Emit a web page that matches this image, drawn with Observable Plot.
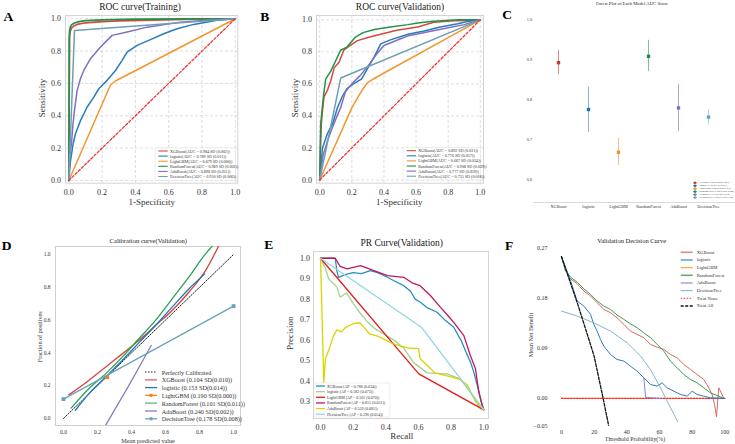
<!DOCTYPE html>
<html><head><meta charset="utf-8">
<script src="https://cdn.jsdelivr.net/npm/d3@7"></script>
<script src="https://cdn.jsdelivr.net/npm/@observablehq/plot@0.6"></script>
<style>
html,body{margin:0;padding:0;background:#fff;}
#root{position:relative;width:735px;height:444px;overflow:hidden;background:#fff;}
#root svg{position:absolute;}
</style></head><body><div id="root"></div>
<script>
// ================= DATA =================
const models = ["XGBoost","logistic","LightGBM","RandomForest","AdaBoost","DecisionTree"];
const ticks01 = [0,0.2,0.4,0.6,0.8,1.0];

// --- A: ROC training (fpr, tpr)
const rocTrainXGBoost = [[0,0],[0.004,0.88],[0.008,0.92],[0.015,0.94],[0.03,0.955],[0.05,0.965],[0.1,0.975],[0.2,0.982],[0.3,0.987],[0.5,0.992],[0.7,0.996],[1,1]];
const rocTrainLogistic = [[0,0],[0.01,0.12],[0.026,0.227],[0.04,0.289],[0.07,0.37],[0.11,0.454],[0.15,0.515],[0.18,0.567],[0.23,0.619],[0.28,0.68],[0.32,0.742],[0.35,0.794],[0.41,0.835],[0.48,0.866],[0.57,0.907],[0.65,0.938],[0.75,0.965],[0.89,0.99],[1,1]];
const rocTrainLightGBM = [[0,0],[0.25,0.59],[0.28,0.615],[1,1]];
const rocTrainRandomForest = [[0,0],[0.003,0.9],[0.007,0.94],[0.015,0.96],[0.03,0.972],[0.06,0.982],[0.1,0.988],[0.2,0.993],[0.4,0.997],[0.7,0.999],[1,1]];
const rocTrainAdaBoost = [[0,0],[0.005,0.15],[0.016,0.227],[0.025,0.35],[0.034,0.433],[0.05,0.557],[0.07,0.63],[0.09,0.68],[0.13,0.753],[0.19,0.825],[0.23,0.866],[0.26,0.897],[0.35,0.918],[0.47,0.948],[0.67,0.979],[0.85,0.992],[1,1]];
const rocTrainDecisionTree = [[0,0],[0.034,0.928],[1,1]];
const rocTrainLegend = ["XGBoost(AUC = 0.984 SD (0.002))","logistic(AUC = 0.789 SD (0.011))","LightGBM(AUC = 0.679 SD (0.000))","RandomForest(AUC = 0.989 SD (0.002))","AdaBoost(AUC = 0.898 SD (0.011))","DecisionTree(AUC = 0.950 SD (0.006))"];

// --- B: ROC validation
const rocValXGBoost = [[0,0],[0.005,0.2],[0.01,0.35],[0.017,0.43],[0.027,0.52],[0.048,0.56],[0.069,0.62],[0.09,0.7],[0.12,0.735],[0.15,0.81],[0.19,0.84],[0.235,0.87],[0.3,0.89],[0.38,0.91],[0.48,0.935],[0.61,0.955],[0.71,0.985],[0.86,0.995],[1,1]];
const rocValLogistic = [[0,0],[0.017,0.2],[0.048,0.29],[0.08,0.35],[0.11,0.45],[0.14,0.52],[0.17,0.57],[0.21,0.6],[0.26,0.63],[0.3,0.7],[0.34,0.77],[0.38,0.85],[0.44,0.875],[0.55,0.91],[0.65,0.93],[0.75,0.955],[0.86,0.975],[0.92,0.99],[1,1]];
const rocValLightGBM = [[0,0],[0.2,0.45],[0.24,0.52],[0.27,0.57],[0.3,0.61],[0.35,0.64],[1,1]];
const rocValRandomForest = [[0,0],[0.003,0.2],[0.006,0.35],[0.023,0.52],[0.037,0.63],[0.069,0.68],[0.1,0.745],[0.13,0.81],[0.17,0.83],[0.22,0.89],[0.27,0.92],[0.34,0.94],[0.44,0.955],[0.55,0.97],[0.61,0.98],[0.69,0.99],[0.86,1.0],[1,1]];
const rocValAdaBoost = [[0,0],[0.02,0.15],[0.05,0.25],[0.08,0.33],[0.1,0.38],[0.13,0.45],[0.16,0.55],[0.2,0.6],[0.25,0.65],[0.3,0.71],[0.35,0.78],[0.4,0.84],[0.45,0.86],[0.5,0.88],[0.55,0.9],[0.6,0.91],[0.7,0.93],[0.8,0.95],[0.9,0.97],[1,1]];
const rocValDecisionTree = [[0,0],[0.131,0.637],[1,1]];
const rocValLegend = ["XGBoost(AUC = 0.892 SD (0.031))","logistic(AUC = 0.776 SD (0.057))","LightGBM(AUC = 0.667 SD (0.034))","RandomForest(AUC = 0.908 SD (0.039))","AdaBoost(AUC = 0.777 SD (0.059))","DecisionTree(AUC = 0.755 SD (0.018))"];
const diagonal = [[0,0],[1,1]];

// --- C: forest plot of AUC
const aucMean = [0.892,0.775,0.668,0.908,0.779,0.756];
const aucLow  = [0.862,0.718,0.635,0.870,0.720,0.738];
const aucHigh = [0.923,0.831,0.703,0.948,0.838,0.774];
const aucTicks = [0.6,0.7,0.8,0.9,1.0];
const forestLegend = ["XGBoost: 0.892 (0.862-0.923)","logistic: 0.775 (0.718-0.831)","LightGBM: 0.668 (0.635-0.703)","RandomForest: 0.908 (0.870-0.948)","AdaBoost: 0.779 (0.720-0.838)","DecisionTree: 0.756 (0.738-0.774)"];

// --- D: calibration (mean predicted, fraction positives)
const calPerfect = [[0,0],[1,1]];
const calXGBoost = [[0.031,0.144],[0.149,0.232],[0.247,0.313],[0.345,0.394],[0.443,0.476],[0.541,0.567],[0.639,0.659],[0.737,0.77],[0.835,0.902],[0.914,1.055]];
const calLogistic = [[0.07,0.05],[0.149,0.15],[0.247,0.252],[0.345,0.354],[0.443,0.461],[0.541,0.567],[0.639,0.679],[0.737,0.79],[0.831,0.882]];
const calLightGBM = [[0.257,0.252]];
const calRandomForest = [[0.045,0.063],[0.149,0.181],[0.247,0.272],[0.345,0.374],[0.443,0.486],[0.541,0.598],[0.639,0.73],[0.737,0.862],[0.835,1.004],[0.878,1.055]];
const calAdaBoost = [[0.247,-0.043],[0.384,0.2],[0.516,0.445]];
const calDecisionTree = [[0,0.118],[1,0.685]];
const calLegend = ["Perfectly Calibrated","XGBoost (0.104 SD(0.010))","logistic (0.153 SD(0.014))","LightGBM (0.190 SD(0.000))","RandomForest (0.101 SD(0.011))","AdaBoost (0.240 SD(0.002))","DecisionTree (0.178 SD(0.008))"];

// --- E: PR curves (recall, precision)
const prXGBoost = [[0,1],[0.09,1],[0.1,0.94],[0.11,0.907],[0.15,0.92],[0.2,0.93],[0.25,0.925],[0.306,0.94],[0.35,0.93],[0.41,0.907],[0.45,0.89],[0.51,0.866],[0.55,0.84],[0.58,0.8],[0.612,0.785],[0.65,0.76],[0.714,0.736],[0.76,0.7],[0.816,0.663],[0.86,0.6],[0.898,0.53],[0.92,0.49],[0.94,0.44],[0.97,0.35],[0.985,0.3],[1,0.26]];
const prLogistic = [[0,1],[0.03,0.95],[0.05,0.9],[0.1,0.86],[0.12,0.81],[0.16,0.83],[0.2,0.78],[0.245,0.73],[0.286,0.69],[0.327,0.66],[0.367,0.64],[0.45,0.6],[0.51,0.56],[0.57,0.49],[0.653,0.44],[0.776,0.435],[0.857,0.41],[0.918,0.345],[0.98,0.265]];
const prLightGBM = [[0,1],[0.602,0.435],[1,0.259]];
const prRandomForest = [[0,1],[0.09,1],[0.12,0.96],[0.163,0.948],[0.245,0.964],[0.327,0.94],[0.41,0.915],[0.51,0.907],[0.56,0.88],[0.61,0.866],[0.673,0.818],[0.735,0.76],[0.78,0.72],[0.816,0.687],[0.878,0.622],[0.918,0.525],[0.949,0.46],[0.97,0.345],[0.99,0.28],[1,0.26]];
const prAdaBoost = [[0,1],[0.02,0.394],[0.03,0.508],[0.05,0.55],[0.08,0.622],[0.1,0.65],[0.13,0.64],[0.15,0.66],[0.2,0.68],[0.24,0.685],[0.27,0.66],[0.3,0.63],[0.35,0.62],[0.4,0.6],[0.45,0.58],[0.5,0.57],[0.55,0.56],[0.6,0.56],[0.61,0.51],[0.65,0.48],[0.7,0.44],[0.8,0.42],[0.85,0.41],[0.9,0.38],[0.95,0.3],[1,0.26]];
const prDecisionTree = [[0,1],[0.618,0.663],[1,0.26]];
const prLegend = ["XGBoost (AP = 0.788 (0.034))","logistic (AP = 0.582 (0.073))","LightGBM (AP = 0.565 (0.070))","RandomForest (AP = 0.815 (0.051))","AdaBoost (AP = 0.559 (0.081))","DecisionTree (AP = 0.596 (0.054))"];
const prTicksY = [0.3,0.4,0.5,0.6,0.7,0.8,0.9,1.0];

// --- F: decision curve (threshold %, net benefit)
const dcaXGBoost = [[0,0.255],[2.4,0.23],[5.5,0.215],[9.6,0.206],[13.7,0.193],[17.8,0.184],[21.8,0.172],[25.9,0.16],[30,0.154],[34,0.145],[38.2,0.133],[42.2,0.121],[46.3,0.115],[50.4,0.109],[54.5,0.097],[58.6,0.092],[62.7,0.088],[66.7,0.079],[70.8,0.073],[74.9,0.061],[79,0.052],[83,0.043],[87.1,0.034],[90.2,0.019],[92.2,0.007],[93.7,-0.011],[94.9,-0.033],[96.3,0.019],[97.8,0.01],[99.4,0]];
const dcaLogistic = [[0,0.255],[5.5,0.212],[9.6,0.175],[13.7,0.166],[17.8,0.151],[19.8,0.133],[21.8,0.121],[23.9,0.106],[25.9,0.094],[30,0.079],[34,0.07],[38.2,0.067],[42.2,0.058],[46.3,0.049],[50.4,0.037],[54.5,0.025],[58.6,0.022],[61.6,0.028],[64.7,0.019],[68.8,0.013],[72.9,0.007],[77,0.004],[80,0.013],[83,0.007],[87.1,0.004],[91.2,0.001],[99.4,0]];
const dcaLightGBM = [[0,0],[100,0]];
const dcaRandomForest = [[0,0.255],[2.4,0.231],[5.5,0.218],[9.6,0.209],[13.7,0.197],[17.8,0.187],[21.8,0.175],[25.9,0.166],[30,0.16],[34,0.15],[38.2,0.142],[42.2,0.134],[46.3,0.127],[50.4,0.118],[54.5,0.109],[58.6,0.097],[62.7,0.085],[66.7,0.067],[70.8,0.055],[74.9,0.043],[79,0.034],[83,0.028],[87.1,0.019],[91.2,0.01],[95.3,0.005],[99.4,0]];
const dcaAdaBoost = [[50.4,0.037],[51.5,0.002],[55,0.001],[60.6,0]];
const dcaDecisionTree = [[0,0.157],[9.6,0.148],[19.8,0.136],[30,0.121],[40.2,0.1],[48.4,0.076],[54.5,0.052],[60.6,0.019],[64.7,-0.005],[71.2,-0.042]];
const dcaTreatNone = [[0,0],[100,0]];
const dcaTreatAll = [[0,0.255],[10,0.169],[20,0.076],[25.5,0],[29,-0.0506]];
const dcaLegend = ["XGBoost","logistic","LightGBM","RandomForest","AdaBoost","DecisionTree","Treat None","Treat All"];
const dcaTicksX = [0,20,40,60,80,100];
const dcaTicksY = [-0.05,0,0.09,0.18,0.27];

// ================= STYLE =================
const FONT = '"Liberation Serif","Times New Roman",serif';
const rocColors = ["#d6483c","#2a7bbd","#f2962f","#23924a","#8170bf","#6e9fb5"];
const diagColor = "#f03030";
const forestColors = ["#c43b33","#1f6fb5","#eb8f1e","#1b8a4a","#8070b8","#5aa5c2"];
const forestBarColors = ["#d98a85","#8fb5d8","#f3c27f","#7fbf93","#b0a6d6","#a6cfe0"];
const calColors = ["#d5453f","#1f77b4","#ff7f0e","#2ca05a","#8a7cc5","#6aa3b8"];
const calLegendColors = ["#e08b87","#1f77b4","#ff7f0e","#82c99a","#8a7cc5","#6aa3b8"];
const prColors = ["#2b8cbe","#a8d08d","#e31a1c","#c2185b","#d8d400","#92d5e6"];
const dcaColors = ["#d46a62","#2b7bc0","#ff9e2c","#3d9a5a","#8f80c9","#86b3cc","#ff2a2a","#111111"];
const dcaLegendColors = ["#dd8a84","#2b7bc0","#ff9e2c","#5cae74","#8f80c9","#86b3cc","#ff2a2a","#111111"];

// ================= HELPERS =================
const root = document.getElementById("root");
const P = arr => arr.map(([x, y]) => ({x, y}));
const line = (arr, stroke, o = {}) => Plot.line(P(arr), {x: "x", y: "y", stroke, strokeWidth: 1.3, clip: true, ...o});
function add(svg, left, top) { svg.style.left = left + "px"; svg.style.top = top + "px"; root.appendChild(svg); }
const baseStyle = (fs) => ({fontFamily: FONT, fontSize: fs, color: "#333", background: "transparent", overflow: "visible"});
const grid = (G, ticks) => G({ticks, stroke: "#c8c8c8", strokeOpacity: 1, strokeDasharray: "3,2", strokeWidth: 0.6});
const diagMark = () => Plot.line(P(diagonal), {x: "x", y: "y", stroke: diagColor, strokeWidth: 1.25, strokeDasharray: "2.6,1.8"});

// ================= A =================
add(Plot.plot({
  width: 245, height: 215, marginLeft: 65, marginRight: 7.7, marginTop: 15, marginBottom: 32.3,
  style: baseStyle("8px"),
  x: {domain: [-0.02, 1.015]}, y: {domain: [-0.017, 1.02]},
  marks: [
    grid(Plot.gridX, ticks01), grid(Plot.gridY, ticks01),
    Plot.frame({stroke: "#d4d4d4"}),
    Plot.axisX({ticks: ticks01, tickSize: 0, tickPadding: 6.5, tickFormat: ".1f", label: null}),
    Plot.axisY({ticks: ticks01, tickSize: 0, tickPadding: 4.5, tickFormat: ".1f", label: null}),
    line(rocTrainXGBoost, rocColors[0], {strokeWidth: 1.7}),
    line(rocTrainLogistic, rocColors[1], {strokeWidth: 1.5}),
    line(rocTrainLightGBM, rocColors[2], {strokeWidth: 1.5}),
    line(rocTrainRandomForest, rocColors[3], {strokeWidth: 1.7}),
    line(rocTrainAdaBoost, rocColors[4], {strokeWidth: 1.5}),
    line(rocTrainDecisionTree, rocColors[5], {strokeWidth: 1.5}),
    diagMark()
  ]
}), 0, 0);

// ================= B =================
add(Plot.plot({
  width: 245, height: 215, marginLeft: 76, marginRight: 2, marginTop: 15, marginBottom: 32.3,
  style: baseStyle("8px"),
  x: {domain: [-0.02, 1.02]}, y: {domain: [-0.02, 1.027]},
  marks: [
    grid(Plot.gridX, ticks01), grid(Plot.gridY, ticks01),
    Plot.frame({stroke: "#d4d4d4"}),
    Plot.axisX({ticks: ticks01, tickSize: 0, tickPadding: 6.5, tickFormat: ".1f", label: null}),
    Plot.axisY({ticks: ticks01, tickSize: 0, tickPadding: 4.5, tickFormat: ".1f", label: null}),
    line(rocValXGBoost, rocColors[0], {strokeWidth: 1.5}),
    line(rocValLogistic, rocColors[1], {strokeWidth: 1.5}),
    line(rocValLightGBM, rocColors[2], {strokeWidth: 1.5}),
    line(rocValRandomForest, rocColors[3], {strokeWidth: 1.5}),
    line(rocValAdaBoost, rocColors[4], {strokeWidth: 1.5}),
    line(rocValDecisionTree, rocColors[5], {strokeWidth: 1.5}),
    diagMark()
  ]
}), 240, 0);

// ================= C =================
const forest = models.map((m, i) => ({model: m, auc: aucMean[i], low: aucLow[i], high: aucHigh[i], c: forestColors[i], cb: forestBarColors[i]}));
const cYDomain = [0.5425, 1.01];
add(Plot.plot({
  width: 255, height: 215, marginLeft: 53, marginRight: 0, marginTop: 15, marginBottom: 13,
  style: baseStyle("4.2px"),
  x: {type: "point", domain: models, range: [63, 243]},
  y: {domain: cYDomain},
  color: {type: "identity"},
  marks: [
    Plot.ruleY([cYDomain[0]], {stroke: "#d0d0d0", strokeWidth: 0.8}),
    Plot.axisX({tickSize: 0, tickPadding: 3, label: null}),
    Plot.axisY({ticks: aucTicks, tickSize: 0, tickPadding: 1.5, tickFormat: ".1f", label: null}),
    Plot.ruleX(forest, {x: "model", y1: "low", y2: "high", stroke: "cb", strokeWidth: 1}),
    Plot.dot(forest, {x: "model", y: "auc", fill: "c", symbol: "square", r: 1.9})
  ]
}), 480, 0);

// ================= D =================
add(Plot.plot({
  width: 245, height: 219, marginLeft: 55, marginRight: 5, marginTop: 21, marginBottom: 19,
  style: baseStyle("5.5px"),
  x: {domain: [-0.047, 1.041]}, y: {domain: [-0.043, 1.049]},
  marks: [
    Plot.frame({stroke: "#cfcfcf"}),
    Plot.axisX({ticks: ticks01, tickSize: 0, tickPadding: 5, tickFormat: ".1f", label: null}),
    Plot.axisY({ticks: ticks01, tickSize: 0, tickPadding: 5, tickFormat: ".1f", label: null}),
    Plot.line(P(calPerfect), {x: "x", y: "y", stroke: "#222", strokeDasharray: "1.5,1.5", strokeWidth: 1}),
    line(calXGBoost, calColors[0], {curve: "monotone-x"}),
    line(calLogistic, calColors[1], {curve: "monotone-x"}),
    Plot.dot(P(calLightGBM), {x: "x", y: "y", fill: calColors[2], symbol: "square", r: 2.2}),
    line(calRandomForest, calColors[3], {curve: "monotone-x"}),
    line(calAdaBoost, calColors[4]),
    line(calDecisionTree, calColors[5]),
    Plot.dot(P(calDecisionTree), {x: "x", y: "y", fill: calColors[5], symbol: "square", r: 2.2})
  ]
}), 0, 225);

// ================= E =================
add(Plot.plot({
  width: 250, height: 219, marginLeft: 73, marginRight: 2, marginTop: 26, marginBottom: 26,
  style: baseStyle("8px"),
  x: {domain: [-0.043, 1.029]}, y: {domain: [0.217, 1.033]},
  marks: [
    Plot.frame({stroke: "#d4d4d4"}),
    Plot.axisX({ticks: ticks01, tickSize: 0, tickPadding: 6, tickFormat: ".1f", label: null}),
    Plot.axisY({ticks: prTicksY, tickSize: 0, tickPadding: 3.5, tickFormat: ".1f", label: null}),
    line(prXGBoost, prColors[0]),
    line(prLogistic, prColors[1]),
    line(prLightGBM, prColors[2]),
    line(prRandomForest, prColors[3]),
    line(prAdaBoost, prColors[4]),
    line(prDecisionTree, prColors[5])
  ]
}), 240, 225);

// ================= F =================
add(Plot.plot({
  width: 255, height: 219, marginLeft: 72.8, marginRight: 2.5, marginTop: 22.7, marginBottom: 18.3,
  style: baseStyle("6px"),
  x: {domain: [-5, 105]}, y: {domain: [-0.05, 0.27]},
  marks: [
    Plot.axisX({ticks: dcaTicksX, tickSize: 0, tickPadding: 4, tickFormat: "d", label: null}),
    Plot.axisY({ticks: dcaTicksY, tickSize: 0, tickPadding: 5.8, tickFormat: ".2f", label: null}),
    line(dcaLightGBM, dcaColors[2], {strokeWidth: 1}),
    line(dcaTreatNone, dcaColors[6], {strokeDasharray: "1.5,1.5", strokeWidth: 1.2}),
    line(dcaXGBoost, dcaColors[0], {strokeWidth: 1}),
    line(dcaRandomForest, dcaColors[3], {strokeWidth: 1}),
    line(dcaAdaBoost, dcaColors[4], {strokeWidth: 1}),
    line(dcaLogistic, dcaColors[1], {strokeWidth: 1}),
    line(dcaDecisionTree, dcaColors[5], {strokeWidth: 1}),
    line(dcaTreatAll, dcaColors[7], {strokeDasharray: "3,1.5", strokeWidth: 1.3})
  ]
}), 480, 225);

// ================= OVERLAY TEXT & LEGENDS =================
const ov = d3.create("svg").attr("width", 735).attr("height", 444)
  .style("left", "0px").style("top", "0px").style("pointer-events", "none");
function T(x, y, s, size, o = {}) {
  const t = ov.append("text").attr("x", x).attr("y", y)
    .attr("font-family", FONT).attr("font-size", size)
    .attr("fill", o.fill || "#222").attr("text-anchor", o.anchor || "middle")
    .attr("dominant-baseline", "central").text(s);
  if (o.bold) t.attr("font-weight", "bold");
  if (o.rotate) t.attr("transform", `rotate(-90,${x},${y})`);
  return t;
}
function legend(labels, colors, cfg) {
  if (cfg.box) ov.append("rect").attr("x", cfg.box[0]).attr("y", cfg.box[1]).attr("width", cfg.box[2]).attr("height", cfg.box[3])
    .attr("fill", "white").attr("fill-opacity", 0.85).attr("stroke", "#dedede").attr("stroke-width", 0.5).attr("rx", 1);
  labels.forEach((lab, i) => {
    const y = cfg.y0 + i * cfg.dy;
    const st = (cfg.styles && cfg.styles[i]) || {};
    ov.append("line").attr("x1", cfg.x1).attr("x2", cfg.x2).attr("y1", y).attr("y2", y)
      .attr("stroke", colors[i]).attr("stroke-width", st.w || cfg.w || 1.2)
      .attr("stroke-dasharray", st.dash || null);
    if (st.marker) ov.append("rect").attr("x", (cfg.x1 + cfg.x2) / 2 - st.marker / 2).attr("y", y - st.marker / 2)
      .attr("width", st.marker).attr("height", st.marker).attr("fill", colors[i]);
    T(cfg.tx, y, lab, cfg.size, {anchor: "start", fill: "#333"});
  });
}

// panel letters
T(8.3, 16.5, "A", "13.5px", {bold: true, fill: "#000"});
T(264.7, 16.5, "B", "13.5px", {bold: true, fill: "#000"});
T(507.2, 14.5, "C", "13.5px", {bold: true, fill: "#000"});
T(6.7, 245.8, "D", "13.5px", {bold: true, fill: "#000"});
T(268.7, 244.8, "E", "13.5px", {bold: true, fill: "#000"});
T(509, 245.8, "F", "13.5px", {bold: true, fill: "#000"});

// A
T(140, 6.7, "ROC curve(Training)", "9.5px");
T(151.7, 202, "1-Specificity", "9px", {fill: "#333"});
T(41.7, 98, "Sensitivity", "9px", {rotate: true, fill: "#333"});
legend(rocTrainLegend, rocColors, {x1: 158.3, x2: 167.7, tx: 170, y0: 151, dy: 5.1, size: "4.1px", w: 1.1, box: [155, 147.8, 80.5, 32.5]});
// B
T(400, 6.7, "ROC curve(Validation)", "9.5px");
T(399.3, 201.5, "1-Specificity", "9px", {fill: "#333"});
T(295, 98, "Sensitivity", "9px", {rotate: true, fill: "#333"});
legend(rocValLegend, rocColors, {x1: 406.7, x2: 416, tx: 418.3, y0: 150.7, dy: 5.1, size: "4.1px", w: 1.1, box: [403, 147.5, 77.5, 32.5]});
// C
T(632, 3.6, "Forest Plot of Each Model AUC Score", "4.7px");
legend(forestLegend, forestColors, {x1: 693, x2: 697, tx: 699.5, y0: 182.8, dy: 2.95, size: "2.4px", w: 0.8,
  styles: forestColors.map(() => ({marker: 2.2}))});
// D
T(148.3, 240, "Calibration curve(Validation)", "6.6px");
T(148, 440.2, "Mean predicted value", "6.2px", {fill: "#333"});
T(39.3, 336.7, "Fraction of positives", "6.2px", {rotate: true, fill: "#333"});
legend(calLegend, ["#222"].concat(calLegendColors), {x1: 145, x2: 157, tx: 161.7, y0: 372, dy: 7.8, size: "6.2px", w: 1.3,
  styles: [{dash: "1.5,1.5", w: 1}, {w: 1.8}, {}, {marker: 3}, {w: 1.8}, {}, {marker: 3}]});
// E
T(401.7, 243.3, "PR Curve(Validation)", "9.5px");
T(401.7, 436, "Recall", "9px", {fill: "#333"});
T(290, 333.3, "Precision", "9px", {rotate: true, fill: "#333"});
legend(prLegend, prColors, {x1: 316, x2: 325, tx: 327, y0: 386, dy: 5.65, size: "4px", w: 1.3, box: [314, 383, 76, 34]});
// F
T(631.7, 240, "Validation Decision Curve", "6.5px");
T(635, 438.5, "Threshold Probability(%)", "5.9px", {fill: "#333"});
T(530, 335, "Mean Net Benefit", "6.2px", {rotate: true, fill: "#333"});
legend(dcaLegend, dcaLegendColors, {x1: 680.7, x2: 692.7, tx: 696.7, y0: 252.3, dy: 7.67, size: "4.7px", w: 1.1,
  styles: [{w: 1.6}, {}, {}, {w: 1.6}, {}, {}, {dash: "1.5,1.5"}, {dash: "3,1.5", w: 1.3}]});

root.appendChild(ov.node());
</script>
</body></html>
